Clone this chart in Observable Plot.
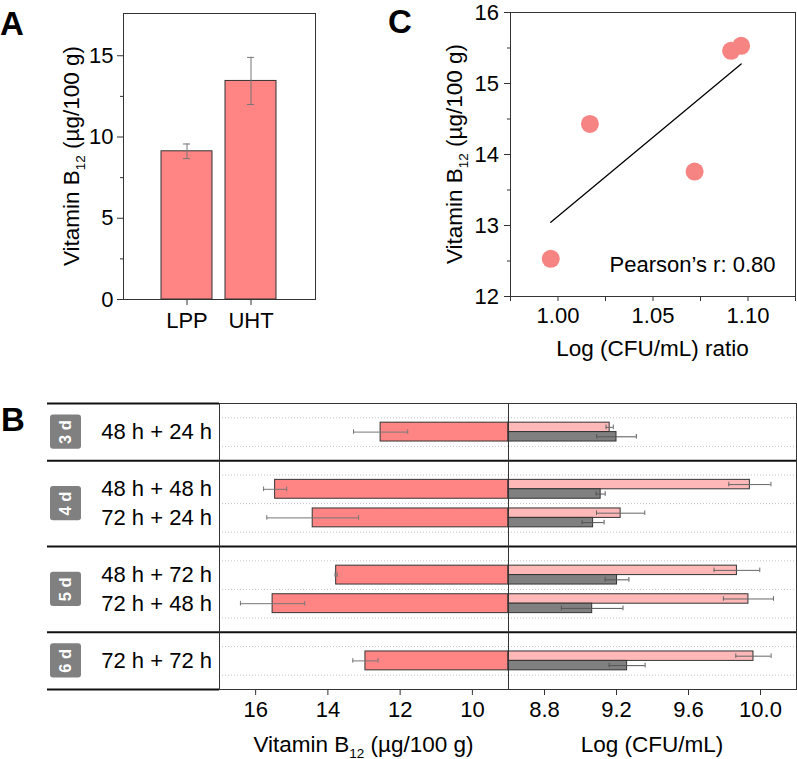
<!DOCTYPE html>
<html>
<head>
<meta charset="utf-8">
<script src="https://cdn.jsdelivr.net/npm/d3@7"></script>
<script src="https://cdn.jsdelivr.net/npm/@observablehq/plot@0.6"></script>
<style>
  html, body { margin: 0; padding: 0; background: #fff; }
  #root { position: relative; width: 797px; height: 759px; overflow: hidden; background: #fff; }
  #root svg { position: absolute; max-width: none; }
</style>
</head>
<body>
<div id="root"></div>
<script>
// ---------------- DATA ----------------
// Panel A
const treatmentsA = ["LPP", "UHT"];
const b12A = [9.12, 13.45];
const b12AErr = [0.45, 1.45];
const yTicksA = [0, 5, 10, 15];
const yMinorA = [2.5, 7.5, 12.5];

// Panel C
const ratioC = [0.9962, 1.0168, 1.0719, 1.0911, 1.0964];
const b12C = [12.53, 14.43, 13.76, 15.46, 15.53];
const xTicksC = [1.0, 1.05, 1.1];
const xMinorC = [0.975, 1.025, 1.075, 1.125];
const yTicksC = [12, 13, 14, 15, 16];
const yMinorC = [12.5, 13.5, 14.5, 15.5];
const pearsonLabel = "Pearson’s r: 0.80";

// Panel B
const dayGroups = ["3 d", "4 d", "5 d", "6 d"];
const rowLabels = ["48 h + 24 h", "48 h + 48 h", "72 h + 24 h", "48 h + 72 h", "72 h + 48 h", "72 h + 72 h"];
const rowGroup = ["3 d", "4 d", "4 d", "5 d", "5 d", "6 d"];
const b12B = [12.54, 15.46, 14.42, 13.77, 15.53, 12.96];
const b12BErr = [0.75, 0.32, 1.27, 0.03, 0.89, 0.35];
const cfuSeries1 = [9.162, 9.941, 9.223, 9.869, 9.933, 9.961];
const cfuSeries1Err = [0.02, 0.117, 0.134, 0.127, 0.139, 0.098];
const cfuSeries2 = [9.20, 9.112, 9.07, 9.203, 9.065, 9.259];
const cfuSeries2Err = [0.11, 0.025, 0.061, 0.066, 0.171, 0.10];
const xTicksB12 = [16, 14, 12, 10];
const xTicksCFU = [8.8, 9.2, 9.6, 10.0];

// ---------------- STYLE ----------------
const FONT = '"Liberation Sans", Arial, Helvetica, sans-serif';
const FS = 22;
const RED = "#ff8585";
const PINK = "#ffb8b8";
const GRAY = "#808080";
const DOT = "#f58482";
const FRAME = "#333";
const baseStyle = {fontFamily: FONT, fontSize: FS + "px", color: "#000", background: "none", overflow: "visible"};

const root = document.getElementById("root");
function place(el, left, top) {
  el.style.left = left + "px";
  el.style.top = top + "px";
  root.appendChild(el);
}

// ---------------- PANEL A ----------------
const dataA = treatmentsA.map((t, i) => ({t, v: b12A[i], e: b12AErr[i]}));
const plotA = Plot.plot({
  width: 330, height: 340,
  marginLeft: 123, marginRight: 15, marginTop: 13, marginBottom: 41,
  style: baseStyle,
  x: {domain: treatmentsA, paddingInner: 0.2, paddingOuter: 0.6},
  y: {domain: [0, 17.6]},
  marks: [
    Plot.barY(dataA, {x: "t", y: "v", fill: RED, stroke: FRAME, strokeWidth: 1}),
    Plot.ruleX(dataA, {x: "t", y1: d => d.v - d.e, y2: d => d.v + d.e, stroke: "#777"}),
    Plot.tickY(dataA, {x: "t", y: d => d.v - d.e, stroke: "#777", insetLeft: 22, insetRight: 22}),
    Plot.tickY(dataA, {x: "t", y: d => d.v + d.e, stroke: "#777", insetLeft: 22, insetRight: 22}),
    Plot.axisY({ticks: yMinorA, tickSize: 3, tickFormat: () => "", label: null, stroke: FRAME}),
    Plot.axisY({ticks: yTicksA, tickFormat: d3.format("d"), tickSize: 6, tickPadding: 4, label: null, stroke: FRAME}),
    Plot.axisX({tickSize: 6, tickPadding: 6.4, label: null, stroke: FRAME}),
    Plot.frame({stroke: FRAME})
  ]
});
place(plotA, 0, 0);

// ---------------- PANEL C ----------------
const dataC = ratioC.map((x, i) => ({x, y: b12C[i]}));
const plotC = Plot.plot({
  width: 402, height: 370,
  marginLeft: 115, marginRight: 2, marginTop: 12, marginBottom: 74,
  style: baseStyle,
  x: {domain: [0.975, 1.125]},
  y: {domain: [12, 16]},
  marks: [
    Plot.axisX({ticks: xMinorC, tickSize: 5, tickFormat: () => "", label: null, stroke: FRAME}),
    Plot.axisX({ticks: xTicksC, tickFormat: d3.format(".2f"), tickSize: 5, tickPadding: 5.4, label: null, stroke: FRAME}),
    Plot.axisY({ticks: yMinorC, tickSize: 3, tickFormat: () => "", label: null, stroke: FRAME}),
    Plot.axisY({ticks: yTicksC, tickFormat: d3.format("d"), tickSize: 6, tickPadding: 5.5, label: null, stroke: FRAME}),
    Plot.linearRegressionY(dataC, {x: "x", y: "y", ci: 0, stroke: "#000", strokeWidth: 1.3}),
    Plot.dot(dataC, {x: "x", y: "y", r: 9, fill: DOT, stroke: "none"}),
    Plot.text([pearsonLabel], {frameAnchor: "bottom-right", textAnchor: "end", dx: -20, dy: -25, fontSize: FS}),
    Plot.frame({stroke: FRAME})
  ]
});
place(plotC, 395, 0);

// ---------------- PANEL B ----------------
// row layout derived from group membership: half-row padding around each group
const rowPos = [];
const groupInfo = [];
let cursor = 0;
dayGroups.forEach(g => {
  const start = cursor;
  cursor += 0.5;
  rowGroup.forEach((rg, i) => { if (rg === g) { rowPos[i] = cursor + 0.5; cursor += 1; } });
  cursor += 0.5;
  groupInfo.push({g, start, end: cursor, mid: (start + cursor) / 2});
});
const totalRows = cursor;
const separators = [0, ...groupInfo.map(d => d.end)];
const innerSeparators = groupInfo.slice(0, -1).map(d => d.end);
const gridPos = Array.from(new Set(rowPos.flatMap(p => [p - 0.5, p + 0.5])));

const rowsB = rowLabels.map((label, i) => ({
  label, pos: rowPos[i],
  b12: b12B[i], b12e: b12BErr[i],
  c1: cfuSeries1[i], c1e: cfuSeries1Err[i],
  c2: cfuSeries2[i], c2e: cfuSeries2Err[i]
}));

const H = 0.33;   // half bar thickness in row units
const CAP = 0.08; // half cap length in row units
const b12Base = 9;
const cfuBase = 8.6;
const yB = {domain: [0, totalRows], reverse: true, axis: null};
const bBox = {height: 364, marginTop: 8, marginBottom: 70, style: baseStyle, y: yB};

// table (labels and day badges)
const tableB = Plot.plot({
  ...bBox,
  width: 176, marginLeft: 2, marginRight: 2,
  marks: [
    Plot.ruleY(separators, {stroke: "#111", strokeWidth: 2}),
    Plot.rect(groupInfo, {y1: d => d.mid - 0.6, y2: d => d.mid + 0.6, insetLeft: 3, insetRight: 138, rx: 3, fill: GRAY}),
    Plot.text(groupInfo, {y: "mid", text: "g", frameAnchor: "left", dx: 18.5, textAnchor: "middle", rotate: -90, fill: "white", fontWeight: "bold", fontSize: 16.5}),
    Plot.text(rowsB, {y: "pos", text: "label", frameAnchor: "right", textAnchor: "end", dx: -7.5, fontSize: FS})
  ]
});
place(tableB, 45, 395);

// left: vitamin B12 (reversed axis)
const leftB = Plot.plot({
  ...bBox,
  width: 298, marginLeft: 5, marginRight: 4,
  x: {domain: [17, 9]},
  marks: [
    Plot.ruleY(gridPos, {stroke: "#c4c4c4", strokeDasharray: "1,2"}),
    Plot.rect(rowsB, {x1: () => b12Base, x2: "b12", y1: d => d.pos - H, y2: d => d.pos + H, fill: RED, stroke: FRAME}),
    Plot.ruleY(rowsB, {y: "pos", x1: d => d.b12 - d.b12e, x2: d => d.b12 + d.b12e, stroke: "#777"}),
    Plot.ruleX(rowsB, {x: d => d.b12 - d.b12e, y1: d => d.pos - CAP, y2: d => d.pos + CAP, stroke: "#777"}),
    Plot.ruleX(rowsB, {x: d => d.b12 + d.b12e, y1: d => d.pos - CAP, y2: d => d.pos + CAP, stroke: "#777"}),
    Plot.ruleY(innerSeparators, {stroke: "#111", strokeWidth: 2}),
    Plot.axisX({ticks: xTicksB12, tickFormat: d3.format("d"), tickSize: 6, tickPadding: 5.8, label: null, stroke: FRAME}),
    Plot.frame({stroke: FRAME})
  ]
});
place(leftB, 214, 395);

// right: log CFU/mL
const errMarks = (key, ekey, off, color) => [
  Plot.ruleY(rowsB, {y: d => d.pos + off, x1: d => d[key] - d[ekey], x2: d => d[key] + d[ekey], stroke: color}),
  Plot.ruleX(rowsB, {x: d => d[key] - d[ekey], y1: d => d.pos + off - CAP, y2: d => d.pos + off + CAP, stroke: color}),
  Plot.ruleX(rowsB, {x: d => d[key] + d[ekey], y1: d => d.pos + off - CAP, y2: d => d.pos + off + CAP, stroke: color})
];
const rightB = Plot.plot({
  ...bBox,
  width: 293, marginLeft: 4, marginRight: 1,
  x: {domain: [8.6, 10.2]},
  marks: [
    Plot.ruleY(gridPos, {stroke: "#c4c4c4", strokeDasharray: "1,2"}),
    Plot.rect(rowsB, {x1: () => cfuBase, x2: "c1", y1: d => d.pos - H, y2: d => d.pos, fill: PINK, stroke: FRAME}),
    Plot.rect(rowsB, {x1: () => cfuBase, x2: "c2", y1: d => d.pos, y2: d => d.pos + H, fill: GRAY, stroke: FRAME}),
    ...errMarks("c1", "c1e", -H / 2, "#666"),
    ...errMarks("c2", "c2e", H / 2, "#555"),
    Plot.ruleY(innerSeparators, {stroke: "#111", strokeWidth: 2}),
    Plot.axisX({ticks: xTicksCFU, tickFormat: d3.format(".1f"), tickSize: 6, tickPadding: 5.8, label: null, stroke: FRAME}),
    Plot.frame({stroke: FRAME})
  ]
});
place(rightB, 504, 395);

// ---------------- TITLES / LETTERS (overlay) ----------------
const ov = d3.create("svg")
  .attr("width", 797).attr("height", 759)
  .style("left", "0px").style("top", "0px")
  .style("font-family", FONT).style("overflow", "visible");

const TFS = 22.5;
function b12Title(x, y, rot) {
  const t = ov.append("text")
    .attr("transform", `translate(${x},${y}) rotate(${rot})`)
    .attr("text-anchor", "middle").attr("font-size", TFS).attr("fill", "#000");
  t.append("tspan").text("Vitamin B");
  t.append("tspan").attr("font-size", 13.5).attr("dy", 6).text("12");
  t.append("tspan").attr("dy", -6).text(" (µg/100 g)");
}
function plainTitle(x, y, text) {
  ov.append("text").attr("x", x).attr("y", y).attr("text-anchor", "middle")
    .attr("font-size", TFS).attr("fill", "#000").text(text);
}
function letter(x, y, text) {
  ov.append("text").attr("x", x).attr("y", y).attr("font-size", 33)
    .attr("font-weight", "bold").attr("fill", "#000").text(text);
}

b12Title(79, 156, -90);
b12Title(462, 154, -90);
plainTitle(652.5, 356, "Log (CFU/mL) ratio");
b12Title(363.5, 751.5, 0);
plainTitle(652, 751.5, "Log (CFU/mL)");
letter(0, 35, "A");
letter(388, 33, "C");
letter(1, 431, "B");

root.appendChild(ov.node());
</script>
</body>
</html>
